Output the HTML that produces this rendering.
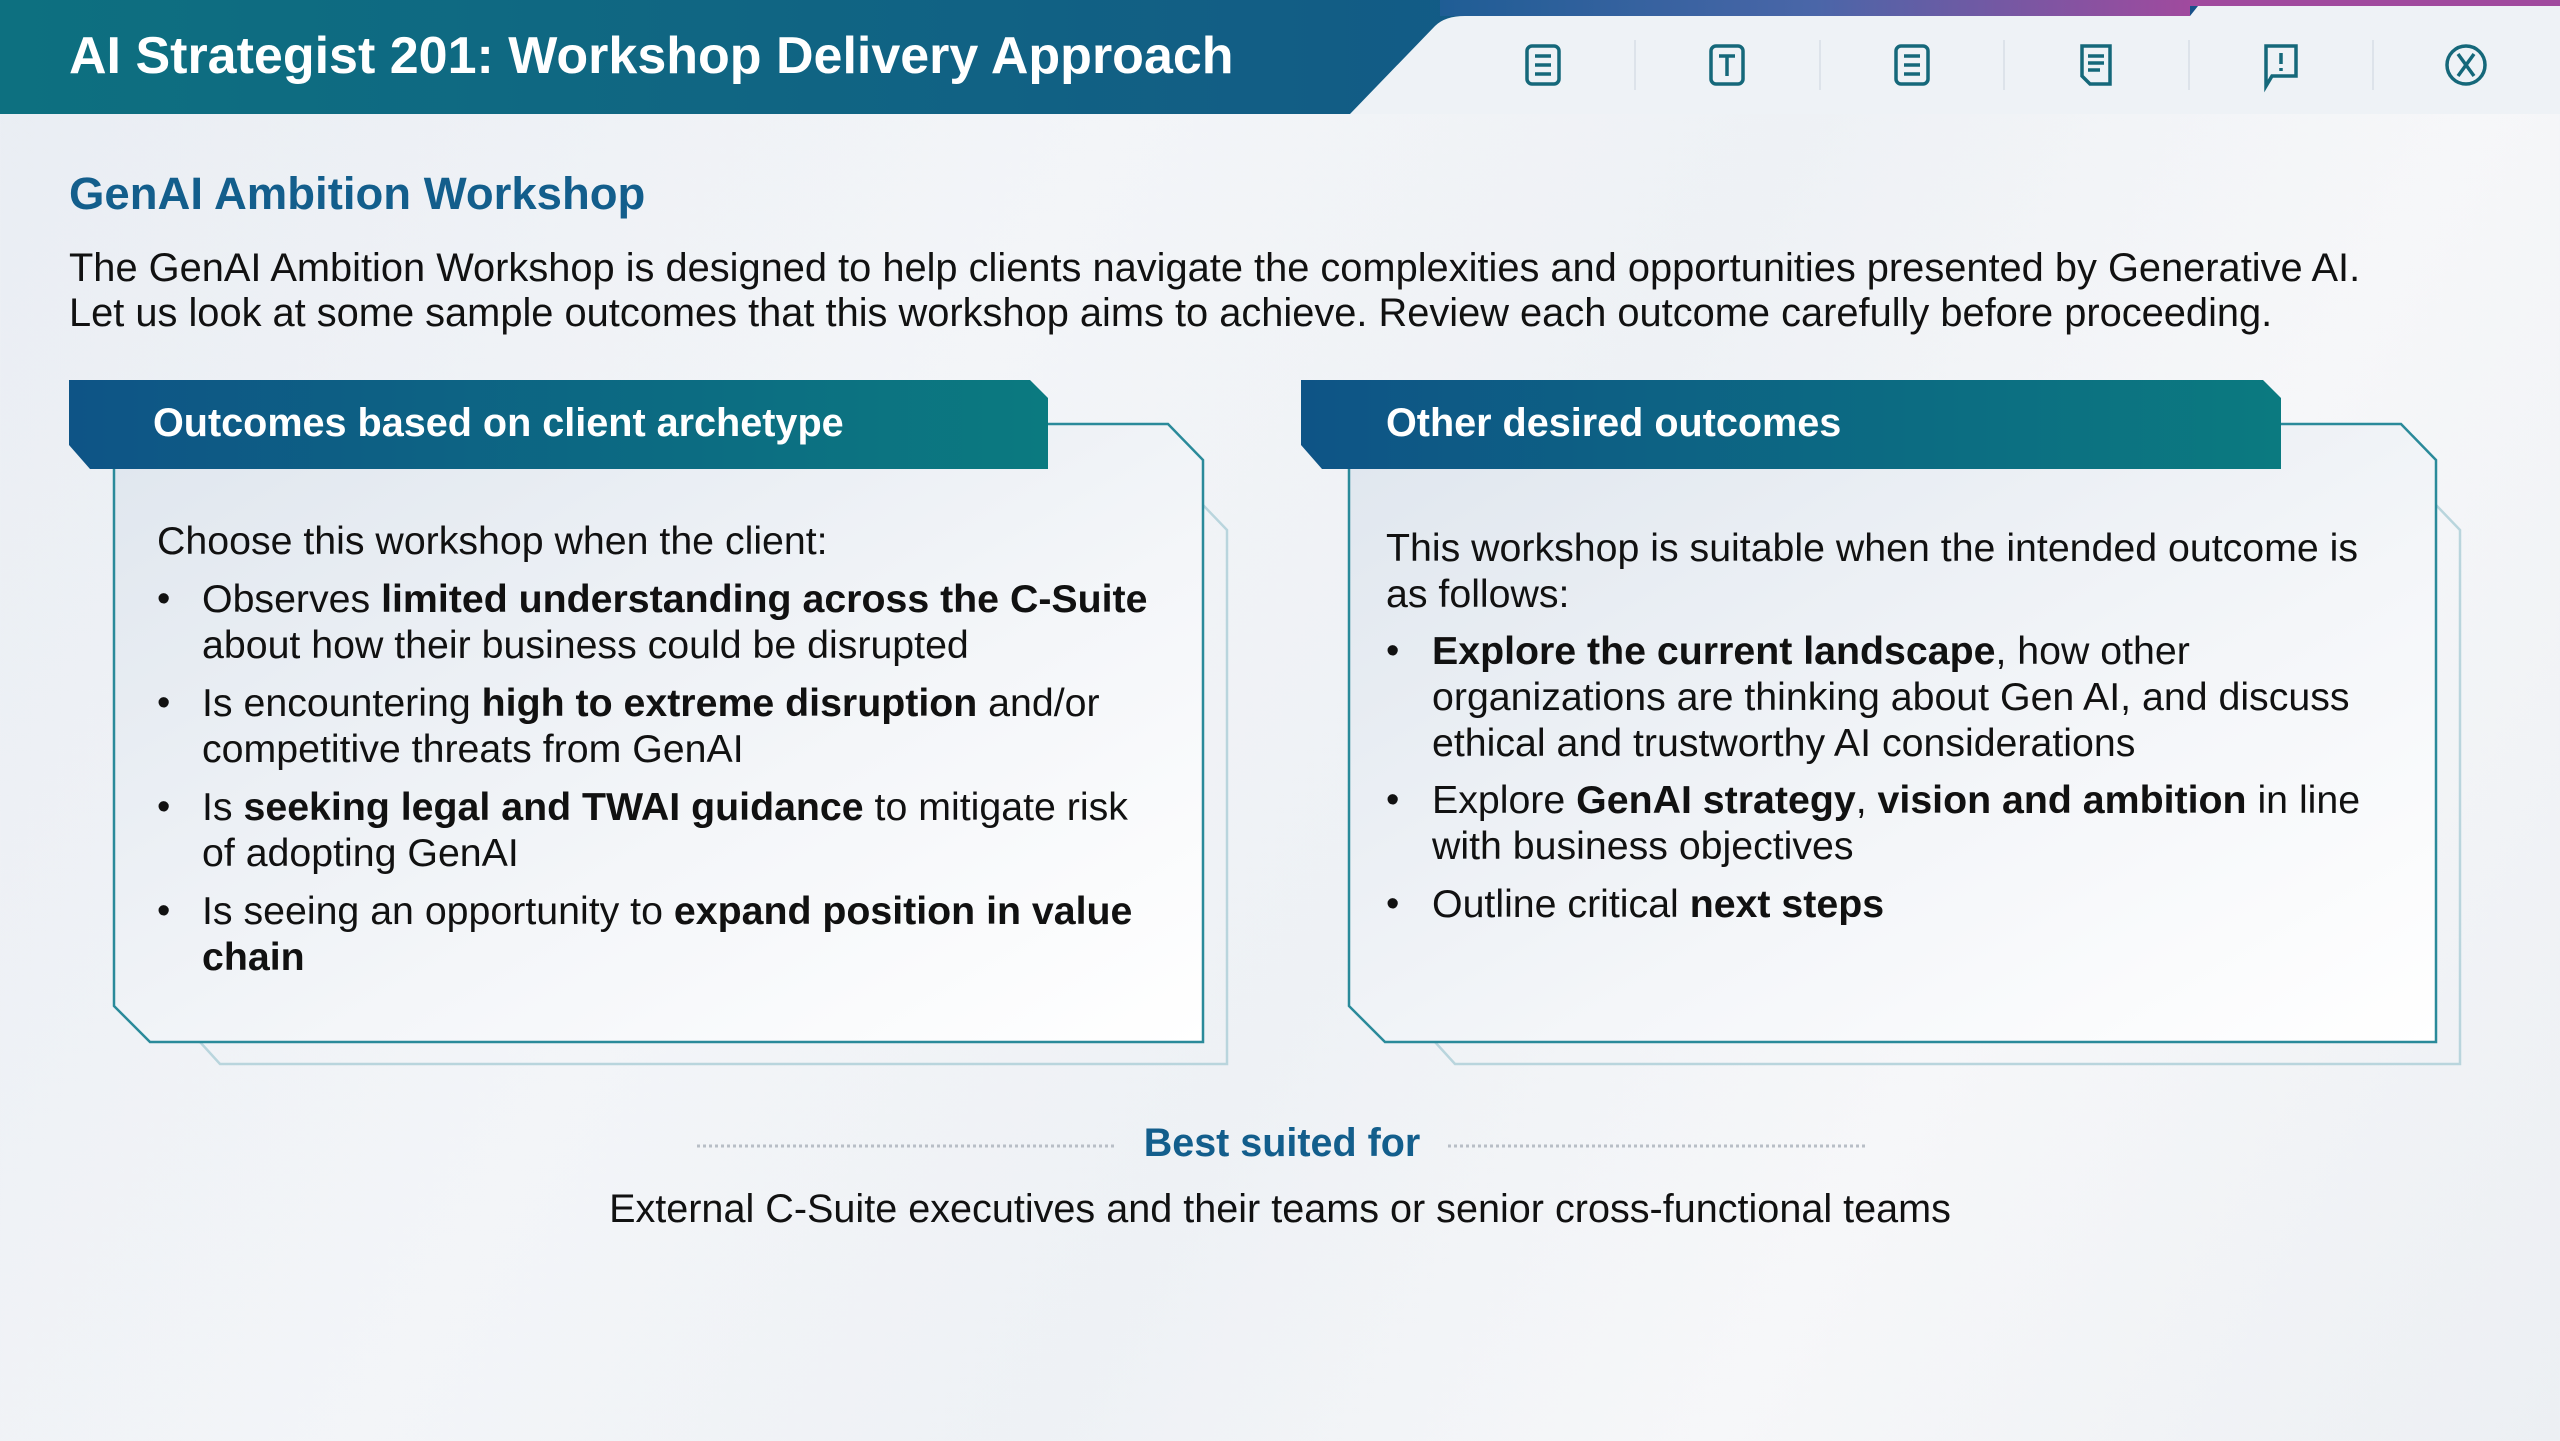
<!DOCTYPE html>
<html><head><meta charset="utf-8"><style>
*{margin:0;padding:0;box-sizing:border-box}
body{width:2560px;height:1441px;overflow:hidden;position:relative;font-family:"Liberation Sans",sans-serif;color:#111;
background:linear-gradient(120deg,#e9edf3 0%,#f3f5f8 35%,#eef1f5 55%,#f6f7f9 75%,#eceff3 100%)}
.t{position:absolute;white-space:nowrap}
.p{font-size:39.3px;line-height:46px}
b{font-weight:bold}
.bul{position:absolute;white-space:nowrap;font-size:38px;line-height:46px}
</style></head><body>
<svg style="position:absolute;left:0;top:0" width="2560" height="1441">
<defs>
<linearGradient id="hg" x1="0" x2="1"><stop offset="0" stop-color="#0d7080"/><stop offset="0.6" stop-color="#135a86"/><stop offset="1" stop-color="#1a4a8a"/></linearGradient>
<linearGradient id="tg" x1="0" x2="1"><stop offset="0" stop-color="#1f5d95"/><stop offset="0.5" stop-color="#4a66a8"/><stop offset="1" stop-color="#a04a9e"/></linearGradient>
<linearGradient id="cg" x1="0" x2="1"><stop offset="0" stop-color="#0e5486"/><stop offset="1" stop-color="#0b7a80"/></linearGradient>
<linearGradient id="bg" x1="0" y1="0" x2="1" y2="1"><stop offset="0" stop-color="#dfe6ee"/><stop offset="0.6" stop-color="#f4f6f9"/><stop offset="1" stop-color="#ffffff"/></linearGradient>
</defs>
<rect x="0" y="0" width="2560" height="114" fill="url(#hg)"/>
<rect x="1440" y="0" width="750" height="16" fill="url(#tg)"/>
<rect x="2190" y="0" width="370" height="6" fill="#a04a9e"/>
<path d="M1350 114 L1435 26 Q1445 16 1465 16 L2190 16 L2198 6 L2560 6 L2560 114 Z" fill="#eef2f6"/>
<g stroke="#dde3ea" stroke-width="2">
<line x1="1635" y1="40" x2="1635" y2="90"/><line x1="1820" y1="40" x2="1820" y2="90"/><line x1="2004" y1="40" x2="2004" y2="90"/><line x1="2189" y1="40" x2="2189" y2="90"/><line x1="2373" y1="40" x2="2373" y2="90"/>
</g>
<g fill="none" stroke="#15687a" stroke-width="3.5">
<rect x="1527" y="46" width="32" height="38" rx="5"/>
<line x1="1535" y1="56" x2="1551" y2="56"/><line x1="1535" y1="65" x2="1551" y2="65"/><line x1="1535" y1="74" x2="1551" y2="74"/>
<rect x="1711" y="46" width="32" height="38" rx="5"/>
<line x1="1719" y1="56" x2="1735" y2="56"/><line x1="1727" y1="56" x2="1727" y2="76"/>
<rect x="1896" y="46" width="32" height="38" rx="5"/>
<line x1="1904" y1="56" x2="1920" y2="56"/><line x1="1904" y1="65" x2="1920" y2="65"/><line x1="1904" y1="74" x2="1920" y2="74"/>
<path d="M2082 46 L2110 46 L2110 84 L2090 84 L2082 76 Z"/>
<line x1="2088" y1="56" x2="2104" y2="56"/><line x1="2088" y1="63" x2="2104" y2="63"/><line x1="2088" y1="70" x2="2100" y2="70"/>
<path d="M2266 46 L2296 46 L2296 76 L2272 76 L2266 86 Z"/>
<line x1="2281" y1="53" x2="2281" y2="64"/><line x1="2281" y1="68" x2="2281" y2="71"/>
<circle cx="2466" cy="65" r="19"/>
<line x1="2458" y1="54" x2="2474" y2="76"/><line x1="2474" y1="54" x2="2458" y2="76"/>
</g>
<path d="M1203 505 L1227 530 L1227 1064 L220 1064 L200 1042" fill="none" stroke="#b9d5dd" stroke-width="2.5"/>
<path d="M114 424 L1168 424 L1203 460 L1203 1042 L150 1042 L114 1006 Z" fill="url(#bg)" stroke="#2a8a9a" stroke-width="2.5"/>
<path d="M69 380 L1030 380 L1048 398 L1048 469 L90 469 L69 445 Z" fill="url(#cg)"/>
<path d="M2436 505 L2460 530 L2460 1064 L1455 1064 L1435 1042" fill="none" stroke="#b9d5dd" stroke-width="2.5"/>
<path d="M1349 424 L2401 424 L2436 460 L2436 1042 L1385 1042 L1349 1006 Z" fill="url(#bg)" stroke="#2a8a9a" stroke-width="2.5"/>
<path d="M1301 380 L2263 380 L2281 398 L2281 469 L1322 469 L1301 445 Z" fill="url(#cg)"/>
<line x1="697" y1="1146" x2="1115" y2="1146" stroke="#b8bec6" stroke-width="3" stroke-dasharray="3 3"/>
<line x1="1448" y1="1146" x2="1866" y2="1146" stroke="#b8bec6" stroke-width="3" stroke-dasharray="3 3"/>
</svg>
<div class="t" style="left:69px;top:26px;font-size:52px;font-weight:bold;color:#fff">AI Strategist 201: Workshop Delivery Approach</div>
<div class="t" style="left:69px;top:168px;font-size:45.5px;font-weight:bold;color:#135e8c">GenAI Ambition Workshop</div>
<div class="t p" style="left:69px;top:245px;font-size:39.8px">The GenAI Ambition Workshop is designed to help clients navigate the complexities and opportunities presented by Generative AI.</div>
<div class="t p" style="left:69px;top:290px;font-size:39.8px">Let us look at some sample outcomes that this workshop aims to achieve. Review each outcome carefully before proceeding.</div>
<div class="t" style="left:153px;top:401px;font-size:39.6px;font-weight:bold;color:#fff">Outcomes based on client archetype</div>
<div class="t" style="left:1386px;top:401px;font-size:39.6px;font-weight:bold;color:#fff">Other desired outcomes</div>

<div class="t p" style="left:157px;top:518px">Choose this workshop when the client:</div>
<div class="bul" style="left:157px;top:576px">•</div>
<div class="t p" style="left:202px;top:576px">Observes <b>limited understanding across the C-Suite</b><br>about how their business could be disrupted</div>
<div class="bul" style="left:157px;top:680px">•</div>
<div class="t p" style="left:202px;top:680px">Is encountering <b>high to extreme disruption</b> and/or<br>competitive threats from GenAI</div>
<div class="bul" style="left:157px;top:784px">•</div>
<div class="t p" style="left:202px;top:784px">Is <b>seeking legal and TWAI guidance</b> to mitigate risk<br>of adopting GenAI</div>
<div class="bul" style="left:157px;top:888px">•</div>
<div class="t p" style="left:202px;top:888px">Is seeing an opportunity to <b>expand position in value</b><br><b>chain</b></div>

<div class="t p" style="left:1386px;top:525px">This workshop is suitable when the intended outcome is<br>as follows:</div>
<div class="bul" style="left:1386px;top:628px">•</div>
<div class="t p" style="left:1432px;top:628px"><b>Explore the current landscape</b>, how other<br>organizations are thinking about Gen AI, and discuss<br>ethical and trustworthy AI considerations</div>
<div class="bul" style="left:1386px;top:777px">•</div>
<div class="t p" style="left:1432px;top:777px">Explore <b>GenAI strategy</b>, <b>vision and ambition</b> in line<br>with business objectives</div>
<div class="bul" style="left:1386px;top:881px">•</div>
<div class="t p" style="left:1432px;top:881px">Outline critical <b>next steps</b></div>

<div class="t" style="left:0;width:2564px;text-align:center;top:1121px;font-size:39.5px;font-weight:bold;color:#135e8c">Best suited for</div>
<div class="t p" style="left:0;width:2560px;text-align:center;top:1186px;font-size:39.6px">External C-Suite executives and their teams or senior cross-functional teams</div>
</body></html>
